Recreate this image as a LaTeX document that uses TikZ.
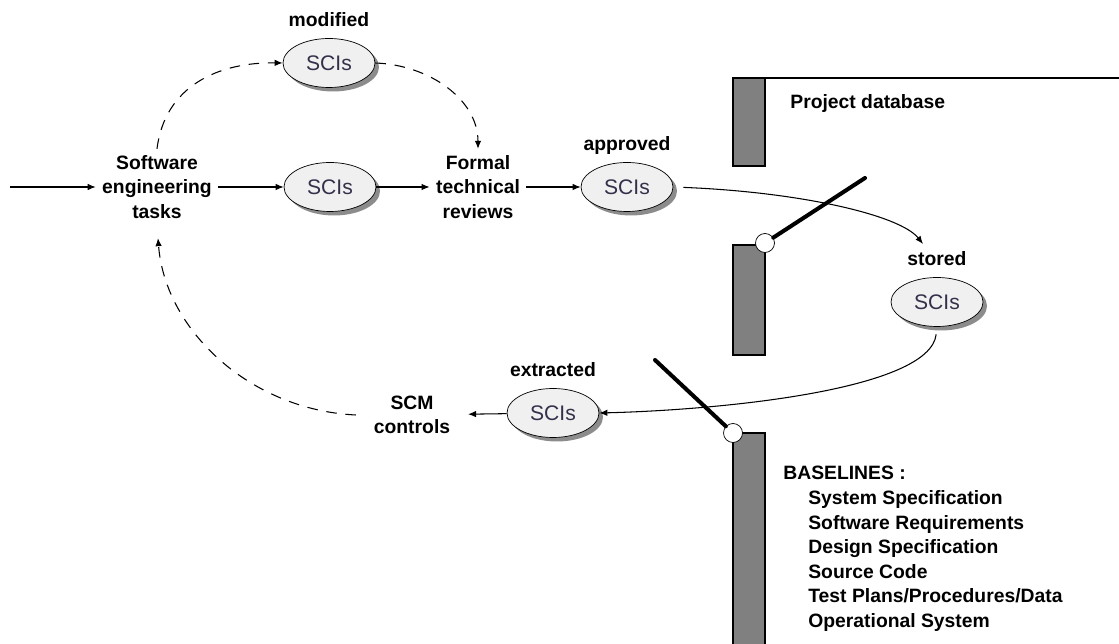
\documentclass[tikz,border=0pt]{standalone}
\usepackage{fontspec}
\setmainfont{Liberation Sans}
\usepackage{tikz}
\usetikzlibrary{positioning,arrows.meta,shapes.geometric,shadows}
\definecolor{sciFill}{HTML}{F0F0F0}
\definecolor{barGray}{HTML}{808080}
\definecolor{sciText}{HTML}{33304A}

\begin{document}
\begin{tikzpicture}[
  x=0.02cm, y=-0.02cm,
  every node/.style={font=\fontsize{11}{14}\selectfont\bfseries},
  sci/.style={ellipse, draw=black, fill=sciFill, minimum width=1.84cm, minimum height=0.98cm,
    inner sep=0pt, font=\fontsize{12}{14}\selectfont, text=sciText,
    drop shadow={shadow xshift=0.8mm, shadow yshift=-0.8mm, fill=black!45, opacity=1}},
  task/.style={align=center, inner sep=3.5pt},
  lbl/.style={inner sep=0pt, text depth=0pt},
  arrow/.style={-{Latex[length=1.6mm, width=1.3mm]}, semithick},
  dasharrow/.style={arrow, dash pattern=on 6pt off 5pt},
  bar/.style={draw=black, thick, fill=barGray},
  gate/.style={circle, draw=black, fill=white, minimum size=0.38cm, inner sep=0pt},
  lever/.style={line width=2.3pt, line cap=round},
]
\useasboundingbox (0,0) rectangle (1119,644);

% Project database
\draw[bar] (733,78) rectangle (765,166);
\draw[bar] (733,245) rectangle (765,355);
\draw[bar] (733,433) rectangle (765,650);
\draw[thick] (765,78) -- (1119,78);
\node[lbl, anchor=west] (pdb) at (790,102) {Project database};

% Tasks and SCIs
\coordinate (in) at (10,187);
\node[task] (se) at (157,187) {Software\\engineering\\tasks};
\node[sci] (sciMid) at (330,187) {SCIs};
\node[task] (ftr) at (478,187) {Formal\\technical\\reviews};
\node[sci] (sciMod) at (329,63) {SCIs};
\node[lbl, above=2.2mm of sciMod] (modLbl) {modified};
\node[sci] (sciApp) at (627,187) {SCIs};
\node[lbl, above=2.2mm of sciApp] (appLbl) {approved};
\node[sci] (sciSto) at (937,302) {SCIs};
\node[lbl, above=2.2mm of sciSto] (stoLbl) {stored};
\coordinate (stoIn) at (923,244);
\node[sci] (sciExt) at (553,413) {SCIs};
\node[lbl, above=2.2mm of sciExt] (extLbl) {extracted};
\node[task, inner xsep=10pt] (scm) at (412,415) {SCM\\controls};

% Flow
\draw[arrow] (in) -- (se);
\draw[arrow] (se) -- (sciMid);
\draw[arrow] (sciMid) -- (ftr);
\draw[arrow] (ftr) -- (sciApp);
\draw[dasharrow] (se.north) .. controls (165,85) and (220,62) .. (sciMod.west);
\draw[dasharrow] (sciMod.east) .. controls (430,65) and (478,100) .. (ftr.north);
\draw[arrow, shorten <=2mm] (sciApp.east) .. controls (800,192) and (900,215) .. (stoIn);
\draw[arrow, shorten <=1.5mm] (sciSto.south) .. controls (930,390) and (720,410) .. (sciExt.east);
\draw[arrow] (sciExt) -- (scm);
\draw[dasharrow, shorten >=2.6mm] (scm.west) .. controls (250,410) and (165,330) .. (se.south);

% Gates
\node[gate] (gateIn) at (765,243) {};
\node[gate] (gateOut) at (733,433) {};
\coordinate (leverIn) at (865,178);
\coordinate (leverOut) at (655,360);
\draw[lever] (gateIn) -- (leverIn);
\draw[lever] (gateOut) -- (leverOut);

% Baselines
\node[anchor=north west, align=left, inner sep=0pt] (bl) at (783,466)
  {BASELINES :\\
   \hspace*{5mm}System Specification\\
   \hspace*{5mm}Software Requirements\\
   \hspace*{5mm}Design Specification\\
   \hspace*{5mm}Source Code\\
   \hspace*{5mm}Test Plans/Procedures/Data\\
   \hspace*{5mm}Operational System};
\end{tikzpicture}
\end{document}
